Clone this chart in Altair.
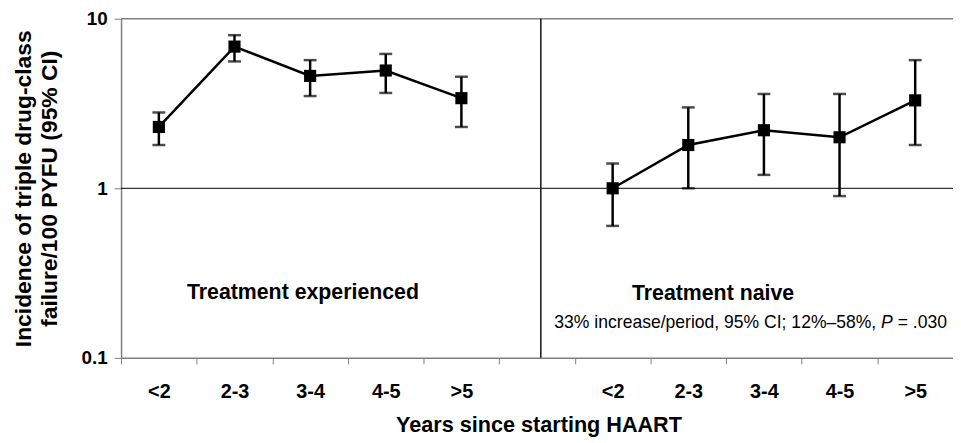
import altair as alt
import pandas as pd

# ---- data ----
periods = ["<2", "2-3", "3-4", "4-5", ">5"]
groups = ["Treatment experienced", "Treatment naive"]

exp_est = [2.3, 6.85, 4.6, 4.95, 3.4]
exp_lo = [1.8, 5.6, 3.5, 3.65, 2.3]
exp_hi = [2.8, 8.0, 5.7, 6.2, 4.55]

naive_est = [1.0, 1.8, 2.2, 2.0, 3.3]
naive_lo = [0.6, 1.0, 1.2, 0.9, 1.8]
naive_hi = [1.4, 3.0, 3.6, 3.6, 5.7]

y_ticks = [0.1, 1, 10]

# x slots: 5 periods, one empty gap, 5 periods (second set made unique with a zero-width space)
exp_keys = periods
gap_key = [" "]
naive_keys = [p + "\u200b" for p in periods]
slot_keys = exp_keys + gap_key + naive_keys
n_slots = len(slot_keys)

# annotations (in slot units, 0 .. n_slots)
divider_x = [5.55]
label_x = [2.405, 7.827]
label_y = [0.2214, 0.218]
sub_parts = ["33% increase/period, 95% CI; 12%\u201358%,", "P", "= .030"]
sub_x = 10.92
sub_y = 0.1498

FONT = "Liberation Sans"

rows = []
for g, keys, est, lo, hi in [
    (groups[0], exp_keys, exp_est, exp_lo, exp_hi),
    (groups[1], naive_keys, naive_est, naive_lo, naive_hi),
]:
    for i, k in enumerate(keys):
        rows.append(dict(group=g, slot=k, idx=slot_keys.index(k),
                         est=est[i], lo=lo[i], hi=hi[i]))
df = pd.DataFrame(rows)

xscale = alt.Scale(type="band", domain=slot_keys, paddingInner=0, paddingOuter=0)
yscale = alt.Scale(type="log", domain=[0.1, 10], nice=False)
qscale = alt.Scale(domain=[0, n_slots], nice=False, zero=False)

x_axis = alt.Axis(
    tickBand="extent", labelAngle=0,
    tickSize=6, tickColor="#808080", tickWidth=1,
    domainColor="#808080", domainWidth=1.5, grid=False,
    labelFont=FONT, labelFontSize=20, labelFontWeight="bold", labelColor="black",
    labelPadding=18, labelOverlap=False, labelBound=False,
    title="Years since starting HAART",
    titleFont=FONT, titleFontSize=21.8, titleFontWeight="bold", titleColor="black",
    titleX=421, titleY=74, titleBaseline="alphabetic", titleAlign="center",
)
y_axis = alt.Axis(
    values=y_ticks, format=".1~f",
    tickSize=7, tickColor="#808080", tickWidth=1,
    domainColor="#808080", domainWidth=1.5, grid=False,
    labelFont=FONT, labelFontSize=19, labelFontWeight="bold", labelColor="black",
    labelPadding=7, labelBaseline="middle",
    title=["Incidence of triple drug-class", "failure/100 PYFU (95% CI)"],
    titleFont=FONT, titleFontSize=23, titleFontWeight="bold", titleColor="black",
    titleLineHeight=26, titleBaseline="alphabetic", titleAngle=270,
    titleAlign="center", titleX=-91, titleY=171,
)

base = alt.Chart(df)
X = alt.X("slot:N", scale=xscale, axis=x_axis, sort=slot_keys)

line = base.mark_line(color="black", strokeWidth=2.5).encode(
    x=X,
    y=alt.Y("est:Q", scale=yscale, axis=y_axis),
    detail="group:N",
    order="idx:Q",
)
bars = base.mark_rule(color="black", strokeWidth=2.5).encode(
    x=X, y="lo:Q", y2="hi:Q"
)
cap_lo = base.mark_tick(color="black", thickness=2.5, size=13, orient="horizontal").encode(
    x=X, y="lo:Q"
)
cap_hi = base.mark_tick(color="black", thickness=2.5, size=13, orient="horizontal").encode(
    x=X, y="hi:Q"
)
pts = base.mark_point(shape="square", filled=True, color="black", size=150, opacity=1).encode(
    x=X, y="est:Q"
)

ref_df = pd.DataFrame({"one": [1], "top": [y_ticks[-1]]})
one_rule = alt.Chart(ref_df).mark_rule(color="black", strokeWidth=1).encode(y="one:Q")
top_rule = alt.Chart(ref_df).mark_rule(color="#808080", strokeWidth=1.5).encode(y="top:Q")

data_layer = alt.layer(line, top_rule, one_rule, bars, cap_lo, cap_hi, pts)

div_df = pd.DataFrame({"x": divider_x, "y": [y_ticks[0]], "y2": [y_ticks[-1]]})
divider = alt.Chart(div_df).mark_rule(color="#222222", strokeWidth=1.6).encode(
    x=alt.X("x:Q", scale=qscale, axis=None), y="y:Q", y2="y2:Q"
)

lab_df = pd.DataFrame({"x": label_x, "y": label_y, "t": groups})
group_text = alt.Chart(lab_df).mark_text(
    font=FONT, fontSize=21.5, fontWeight="bold", color="black",
    align="center", baseline="alphabetic"
).encode(x=alt.X("x:Q", scale=qscale, axis=None), y="y:Q", text="t:N")

SUB_FS = 17.7
sub_df = pd.DataFrame({"x": [sub_x], "y": [sub_y], "a": [sub_parts[0]],
                       "b": [sub_parts[1]], "c": [sub_parts[2]]})
QX = alt.X("x:Q", scale=qscale, axis=None)
sub_a = alt.Chart(sub_df).mark_text(
    font=FONT, fontSize=SUB_FS, color="black", align="right", baseline="alphabetic", dx=-71.3
).encode(x=QX, y="y:Q", text="a:N")
sub_b = alt.Chart(sub_df).mark_text(
    font=FONT, fontSize=SUB_FS, fontStyle="italic", color="black", align="right",
    baseline="alphabetic", dx=-54.6
).encode(x=QX, y="y:Q", text="b:N")
sub_c = alt.Chart(sub_df).mark_text(
    font=FONT, fontSize=SUB_FS, color="black", align="right", baseline="alphabetic", dx=0
).encode(x=QX, y="y:Q", text="c:N")

annot_layer = alt.layer(divider, group_text, sub_a, sub_b, sub_c)

chart = alt.layer(data_layer, annot_layer).resolve_scale(
    x="independent"
).properties(
    width=839, height=342,
    padding={"left": 114, "top": 9, "right": 0, "bottom": 80},
    autosize=alt.AutoSizeParams(type="none"),
    background="white",
).configure_view(stroke=None)

chart.save("out.html", embed_options={"renderer": "svg", "actions": False})
